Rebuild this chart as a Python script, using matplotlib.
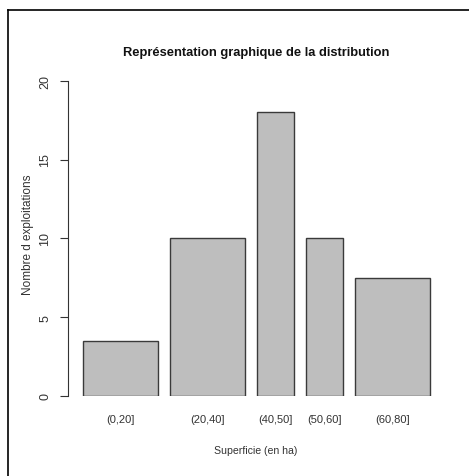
import matplotlib
matplotlib.use("Agg")
import matplotlib.pyplot as plt
from matplotlib.lines import Line2D

# --- Data ---
classes = ['(0,20]', '(20,40]', '(40,50]', '(50,60]', '(60,80]']
counts = [3.5, 10, 18, 10, 7.5]
widths = [20, 20, 10, 10, 20]
space = 0.2 * sum(widths) / len(widths)

# --- bar positions (like R barplot with width and space) ---
lefts = []
pos = 0
for w in widths:
    pos += space
    lefts.append(pos)
    pos += w
centers = [l + w / 2 for l, w in zip(lefts, widths)]

plt.rcParams['font.family'] = ['Liberation Sans', 'DejaVu Sans']

W, H = 469, 477
fig = plt.figure(figsize=(W / 100, H / 100), dpi=100)

# axes placed in pixels
x0, x1 = 68, 445
y_top, y_bot = 81.7, 397
ax = fig.add_axes([x0 / W, (H - y_bot) / H, (x1 - x0) / W, (y_bot - y_top) / H])

ax.bar(lefts, counts, width=widths, align='edge', color='#bebebe',
       edgecolor='#3a3a3a', linewidth=1)

px_per_unit = (430 - 83) / (lefts[-1] + widths[-1] - lefts[0])
ax.set_xlim(lefts[0] - (83 - x0) / px_per_unit,
            lefts[0] + (x1 - 83) / px_per_unit)
ax.set_ylim(0, 20)

for s in ['top', 'right', 'bottom']:
    ax.spines[s].set_visible(False)
ax.spines['left'].set_bounds(0, 20)
ax.spines['left'].set_color('#333333')
ax.spines['left'].set_linewidth(0.8)

ax.set_yticks([0, 5, 10, 15, 20])
ax.set_yticklabels(['0', '5', '10', '15', '20'], rotation=90, va='center',
                   fontsize=9, color='#333333')
ax.tick_params(axis='y', length=6, width=0.8, color='#333333', pad=6)

# class labels under the bars
ax.set_xticks([])
for c, lab in zip(centers, classes):
    xpix = ax.transData.transform((c, 0))[0]
    fig.text(xpix / W, (H - 420) / H, lab,
             ha='center', va='center', fontsize=8, color='#333333')

fig.text(256 / W, (H - 451) / H, 'Superficie (en ha)', ha='center',
         va='center', fontsize=7.6, color='#333333')
fig.text(28 / W, (H - 235) / H, "Nombre d exploitations", rotation=90,
         ha='center', va='center', fontsize=8.5, color='#333333')
fig.text(256 / W, (H - 53) / H, 'Représentation graphique de la distribution',
         ha='center', va='center', fontsize=9.3, fontweight='bold', color='#111111')

# frame lines of the screenshot (top and left)
fig.add_artist(Line2D([8 / W, 1], [(H - 11) / H, (H - 11) / H],
                      transform=fig.transFigure, color='black', linewidth=1.2))
fig.add_artist(Line2D([8 / W, 8 / W], [0, (H - 11) / H],
                      transform=fig.transFigure, color='black', linewidth=1.2))

fig.savefig('out.png', dpi=100)
